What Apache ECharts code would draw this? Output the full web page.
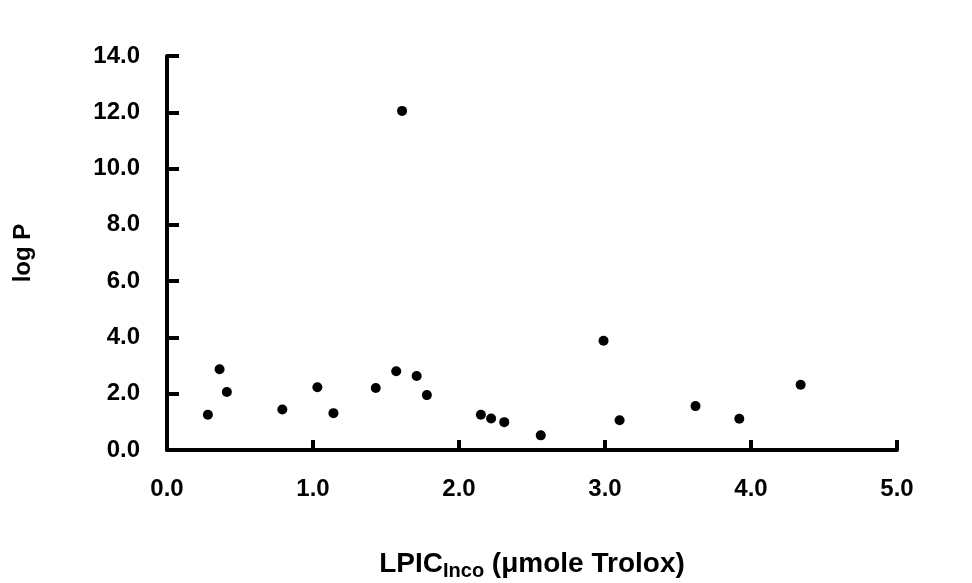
<!DOCTYPE html>
<html>
<head>
<meta charset="utf-8">
<script src="https://cdn.jsdelivr.net/npm/echarts@6/dist/echarts.min.js"></script>
<style>
  html, body { margin: 0; padding: 0; background: #fff; }
  #chart { width: 972px; height: 583px; }
</style>
</head>
<body>
<div id="chart"></div>
<script>
// LPIC (x) and log P (y) values
const lpic = [0.28, 0.36, 0.41, 0.79, 1.03, 1.14, 1.43, 1.57, 1.61, 1.71, 1.78,
  2.15, 2.22, 2.31, 2.56, 2.99, 3.10, 3.62, 3.92, 4.34];
const logP = [1.25, 2.87, 2.06, 1.44, 2.23, 1.31, 2.20, 2.80, 12.05, 2.63, 1.95,
  1.25, 1.12, 0.99, 0.52, 3.88, 1.06, 1.56, 1.11, 2.32];

const points = lpic.map((x, i) => [x, logP[i]]);

const chart = echarts.init(document.getElementById("chart"));

const font = "Liberation Sans, Arial, sans-serif";

chart.setOption({
  animation: false,
  grid: { left: 167, right: 75, top: 56, bottom: 133, outerBoundsMode: "none", containLabel: false },
  xAxis: {
    type: "value",
    min: 0,
    max: 5,
    interval: 1,
    splitLine: { show: false },
    axisLine: { lineStyle: { color: "#000", width: 4 } },
    axisTick: { inside: true, length: 10, lineStyle: { color: "#000", width: 4 } },
    axisLabel: {
      margin: 27,
      color: "#000",
      fontFamily: font,
      fontWeight: "bold",
      fontSize: 24,
      formatter: (v) => v.toFixed(1),
    },
    name: "LPIC{sub|Inco} (\u03bcmole Trolox)",
    nameLocation: "middle",
    nameGap: 97,
    nameTextStyle: {
      color: "#000",
      fontFamily: font,
      fontWeight: "bold",
      fontSize: 28,
      rich: {
        sub: {
          fontFamily: font,
          fontWeight: "bold",
          fontSize: 20,
          padding: [14, 0, 0, 0],
          color: "#000",
        },
      },
    },
  },
  yAxis: {
    type: "value",
    min: 0,
    max: 14,
    interval: 2,
    splitLine: { show: false },
    axisLine: { show: true, lineStyle: { color: "#000", width: 4 } },
    axisTick: { show: true, inside: true, length: 12, lineStyle: { color: "#000", width: 4 } },
    axisLabel: {
      margin: 27,
      color: "#000",
      fontFamily: font,
      fontWeight: "bold",
      fontSize: 24,
      formatter: (v) => v.toFixed(1),
    },
    name: "log P",
    nameLocation: "middle",
    nameGap: 132,
    nameTextStyle: {
      color: "#000",
      fontFamily: font,
      fontWeight: "bold",
      fontSize: 24,
    },
  },
  series: [
    {
      type: "scatter",
      data: points,
      symbol: "circle",
      symbolSize: 10,
      itemStyle: { color: "#000", opacity: 1 },
    },
  ],
});
</script>
</body>
</html>
